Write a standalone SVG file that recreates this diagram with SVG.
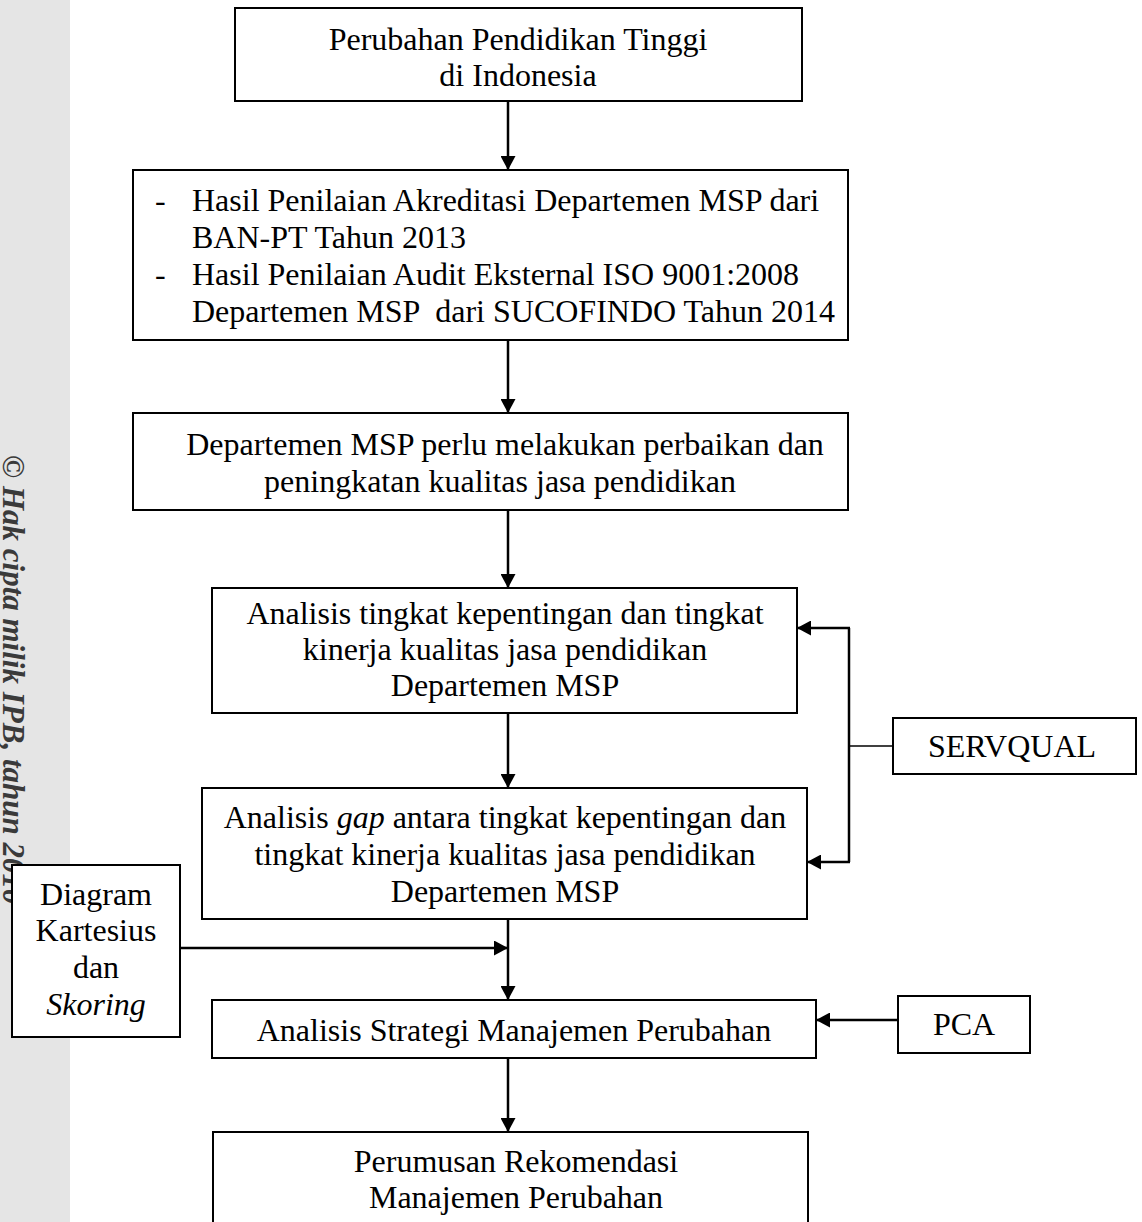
<svg xmlns="http://www.w3.org/2000/svg" width="1142" height="1222" viewBox="0 0 1142 1222">
<defs>
<style>
.box{fill:#fff;stroke:#000;stroke-width:2}
.t{font-family:"Liberation Serif","Times New Roman",serif;font-size:32px;fill:#000}
.c{text-anchor:middle}
.i{font-style:italic}
.wm{font-family:"Liberation Serif","Times New Roman",serif;font-size:31px;font-style:italic;font-weight:bold;fill:#3a3a3a}
.ln{fill:none;stroke:#000;stroke-width:2.5}
.thin{fill:none;stroke:#000;stroke-width:1.6}
</style>
<marker id="ah" markerUnits="userSpaceOnUse" markerWidth="15" markerHeight="15" refX="14" refY="7.5" orient="auto">
<path d="M0,0 L14,7.5 L0,15 Z" fill="#000"/>
</marker>
</defs>
<rect x="0" y="0" width="70" height="1222" fill="#e5e5e5"/>
<text class="wm" transform="translate(3,455) rotate(90)">© Hak cipta milik IPB, tahun 2010</text>
<g id="connectors">
<line class="ln" x1="508" y1="101" x2="508" y2="170" marker-end="url(#ah)"/>
<line class="ln" x1="508" y1="340" x2="508" y2="413" marker-end="url(#ah)"/>
<line class="ln" x1="508" y1="510" x2="508" y2="588" marker-end="url(#ah)"/>
<line class="ln" x1="508" y1="713" x2="508" y2="788" marker-end="url(#ah)"/>
<line class="ln" x1="508" y1="919" x2="508" y2="1000" marker-end="url(#ah)"/>
<line class="ln" x1="180" y1="948" x2="508" y2="948" marker-end="url(#ah)"/>
<line class="ln" x1="508" y1="1058" x2="508" y2="1132" marker-end="url(#ah)"/>
<line class="thin" x1="893" y1="746" x2="849" y2="746"/>
<line class="ln" x1="849" y1="628" x2="849" y2="862"/>
<line class="ln" x1="850" y1="628" x2="797" y2="628" marker-end="url(#ah)"/>
<line class="ln" x1="850" y1="862" x2="807" y2="862" marker-end="url(#ah)"/>
<line class="ln" x1="898" y1="1020" x2="816" y2="1020" marker-end="url(#ah)"/>
</g>
<g id="n1">
<rect class="box" x="235" y="8" width="567" height="93"/>
<text class="t c" x="518" y="50">Perubahan Pendidikan Tinggi</text>
<text class="t c" x="518" y="86">di Indonesia</text>
</g>
<g id="n2">
<rect class="box" x="133" y="170" width="715" height="170"/>
<text class="t" x="155" y="211">-</text>
<text class="t" x="192" y="211">Hasil Penilaian Akreditasi Departemen MSP dari</text>
<text class="t" x="192" y="248">BAN-PT Tahun 2013</text>
<text class="t" x="155" y="285">-</text>
<text class="t" x="192" y="285">Hasil Penilaian Audit Eksternal ISO 9001:2008</text>
<text class="t" x="192" y="322" xml:space="preserve">Departemen MSP  dari SUCOFINDO Tahun 2014</text>
</g>
<g id="n3">
<rect class="box" x="133" y="413" width="715" height="97"/>
<text class="t c" x="505" y="455">Departemen MSP perlu melakukan perbaikan dan</text>
<text class="t c" x="500" y="492">peningkatan kualitas jasa pendidikan</text>
</g>
<g id="n4">
<rect class="box" x="212" y="588" width="585" height="125"/>
<text class="t c" x="505" y="624">Analisis tingkat kepentingan dan tingkat</text>
<text class="t c" x="505" y="660">kinerja kualitas jasa pendidikan</text>
<text class="t c" x="505" y="696">Departemen MSP</text>
</g>
<g id="n5">
<rect class="box" x="202" y="788" width="605" height="131"/>
<text class="t c" x="505" y="828">Analisis <tspan class="i">gap</tspan> antara tingkat kepentingan dan</text>
<text class="t c" x="505" y="865">tingkat kinerja kualitas jasa pendidikan</text>
<text class="t c" x="505" y="902">Departemen MSP</text>
</g>
<g id="n6">
<rect class="box" x="212" y="1000" width="604" height="58"/>
<text class="t c" x="514" y="1041">Analisis Strategi Manajemen Perubahan</text>
</g>
<g id="n7">
<rect class="box" x="213" y="1132" width="595" height="110"/>
<text class="t c" x="516" y="1172">Perumusan Rekomendasi</text>
<text class="t c" x="516" y="1208">Manajemen Perubahan</text>
</g>
<g id="servqual">
<rect class="box" x="893" y="718" width="243" height="56"/>
<text class="t c" x="1012" y="757">SERVQUAL</text>
</g>
<g id="pca">
<rect class="box" x="898" y="996" width="132" height="57"/>
<text class="t c" x="964" y="1035">PCA</text>
</g>
<g id="diagram">
<rect class="box" x="12" y="865" width="168" height="172"/>
<text class="t c" x="96" y="905">Diagram</text>
<text class="t c" x="96" y="941">Kartesius</text>
<text class="t c" x="96" y="978">dan</text>
<text class="t c i" x="96" y="1015">Skoring</text>
</g>
</svg>
